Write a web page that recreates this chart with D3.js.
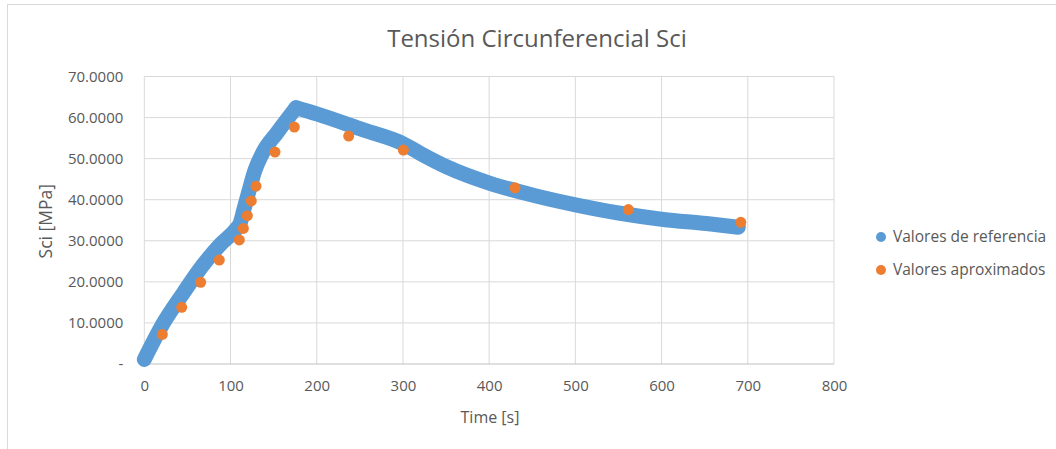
<!DOCTYPE html>
<html>
<head>
<meta charset="utf-8">
<script src="https://cdn.jsdelivr.net/npm/d3@7"></script>
<style>
  body { margin: 0; background: #fff; }
  svg text { fill: #595959; }
</style>
</head>
<body>
<div id="chart"></div>
<script>
// datos ----------------------------------------------------------------------------------
const refTime = [0, 22, 45, 66.6, 87.8, 107, 111, 115.5, 120.6, 128.4, 138, 153.6, 176, 200, 254, 300.5, 320, 350.8, 401, 451, 501.6, 551.9, 602, 652, 689];
const refSci = [1.1, 9.9, 17.2, 23.7, 29.0, 33.0, 34.2, 37.6, 41.5, 47.2, 51.7, 56.2, 62.4, 60.9, 57.0, 53.6, 51.3, 48.0, 44.0, 41.1, 38.7, 36.7, 35.2, 34.2, 33.3];
const aproxTime = [20.9, 43.4, 65.4, 87, 110.2, 114.9, 119.5, 124.1, 129.6, 151.6, 174, 237.1, 300.5, 430, 561.5, 691.9];
const aproxSci = [7.2, 13.8, 19.9, 25.3, 30.2, 33.0, 36.1, 39.7, 43.3, 51.6, 57.7, 55.5, 52.1, 42.9, 37.6, 34.5];
const xTicks = [0, 100, 200, 300, 400, 500, 600, 700, 800];
const yTicks = [0, 10, 20, 30, 40, 50, 60, 70];
const seriesNames = ['Valores de referencia', 'Valores aproximados'];
const seriesColors = ['#5B9BD5', '#ED7D31'];
// ---------------------------------------------------------------------------------------
const width = 1056;
const height = 449;
const margin = {left: 144.3, right: 1056 - 834, top: 76.5, bottom: 449 - 364};
const font = "'Open Sans', sans-serif";

const svg = d3.select('#chart').append('svg')
  .attr('width', width)
  .attr('height', height);

// marco del grafico
svg.append('rect')
  .attr('x', 7.5).attr('y', 4.5)
  .attr('width', 1100).attr('height', 600)
  .attr('fill', 'none')
  .attr('stroke', '#D9D9D9');

const x = d3.scaleLinear().domain([0, 800]).range([margin.left, width - margin.right]);
const y = d3.scaleLinear().domain([0, 70]).range([height - margin.bottom, margin.top]);

// rejilla
const grid = svg.append('g').attr('stroke', '#D9D9D9').attr('stroke-width', 1);
grid.selectAll('.hg')
  .data(yTicks.filter(d => d > 0))
  .enter().append('line')
  .attr('x1', x(0)).attr('x2', x(800))
  .attr('y1', d => y(d)).attr('y2', d => y(d));
grid.selectAll('.vg')
  .data(xTicks)
  .enter().append('line')
  .attr('x1', d => x(d)).attr('x2', d => x(d))
  .attr('y1', y(0)).attr('y2', y(70));
svg.append('line')
  .attr('x1', x(0)).attr('x2', x(800))
  .attr('y1', y(0)).attr('y2', y(0))
  .attr('stroke', '#BFBFBF');

// ejes
const yAxis = svg.append('g')
  .attr('transform', 'translate(' + (x(0) - 21) + ',0)')
  .call(d3.axisLeft(y).tickValues(yTicks).tickSize(0).tickPadding(0)
    .tickFormat(d => d === 0 ? '-' : d3.format('.4f')(d)));
yAxis.select('.domain').remove();
yAxis.selectAll('text')
  .attr('font-family', font)
  .attr('font-size', 15)
  .attr('fill', '#595959');

const xAxis = svg.append('g')
  .attr('transform', 'translate(0,' + (y(0) + 16) + ')')
  .call(d3.axisBottom(x).tickValues(xTicks).tickSize(0).tickPadding(0));
xAxis.select('.domain').remove();
xAxis.selectAll('text')
  .attr('font-family', font)
  .attr('font-size', 15)
  .attr('fill', '#595959');

// serie de referencia (marcadores densos -> trazo grueso)
// se dibuja en dos tramos (subida / bajada) para que el pico quede en punta
const refPoints = refTime.map((t, i) => ({t: t, v: refSci[i]}));
const peak = d3.maxIndex(refPoints, d => d.v);
const line = d3.line()
  .x(d => x(d.t))
  .y(d => y(d.v))
  .curve(d3.curveMonotoneX);
svg.append('g')
  .selectAll('path')
  .data([refPoints.slice(0, peak + 1), refPoints.slice(peak)])
  .enter().append('path')
  .attr('d', line)
  .attr('fill', 'none')
  .attr('stroke', seriesColors[0])
  .attr('stroke-width', 15)
  .attr('stroke-linecap', 'round')
  .attr('stroke-linejoin', 'round');

// serie aproximada
svg.append('g')
  .selectAll('circle')
  .data(aproxSci)
  .enter().append('circle')
  .attr('cx', (d, i) => x(aproxTime[i]))
  .attr('cy', d => y(d))
  .attr('r', 5.5)
  .attr('fill', seriesColors[1]);

// titulos
svg.append('text')
  .attr('x', 537).attr('y', 47)
  .attr('text-anchor', 'middle')
  .attr('font-family', font)
  .attr('font-size', 24)
  .text('Tensión Circunferencial Sci');
svg.append('text')
  .attr('x', 490).attr('y', 423)
  .attr('text-anchor', 'middle')
  .attr('font-family', font)
  .attr('font-size', 16)
  .text('Time [s]');
svg.append('text')
  .attr('transform', 'translate(52,' + (y(35) + 1) + ') rotate(-90)')
  .attr('text-anchor', 'middle')
  .attr('font-family', font)
  .attr('font-size', 17.5)
  .text('Sci [MPa]');

// leyenda
const legend = svg.append('g')
  .selectAll('g')
  .data(seriesNames)
  .enter().append('g')
  .attr('transform', (d, i) => 'translate(881,' + (237 + i * 33) + ')');
legend.append('circle')
  .attr('r', 5)
  .attr('fill', (d, i) => seriesColors[i]);
legend.append('text')
  .attr('x', 12)
  .attr('dy', '0.35em')
  .attr('font-family', font)
  .attr('font-size', 15.5)
  .text(d => d);
</script>
</body>
</html>
